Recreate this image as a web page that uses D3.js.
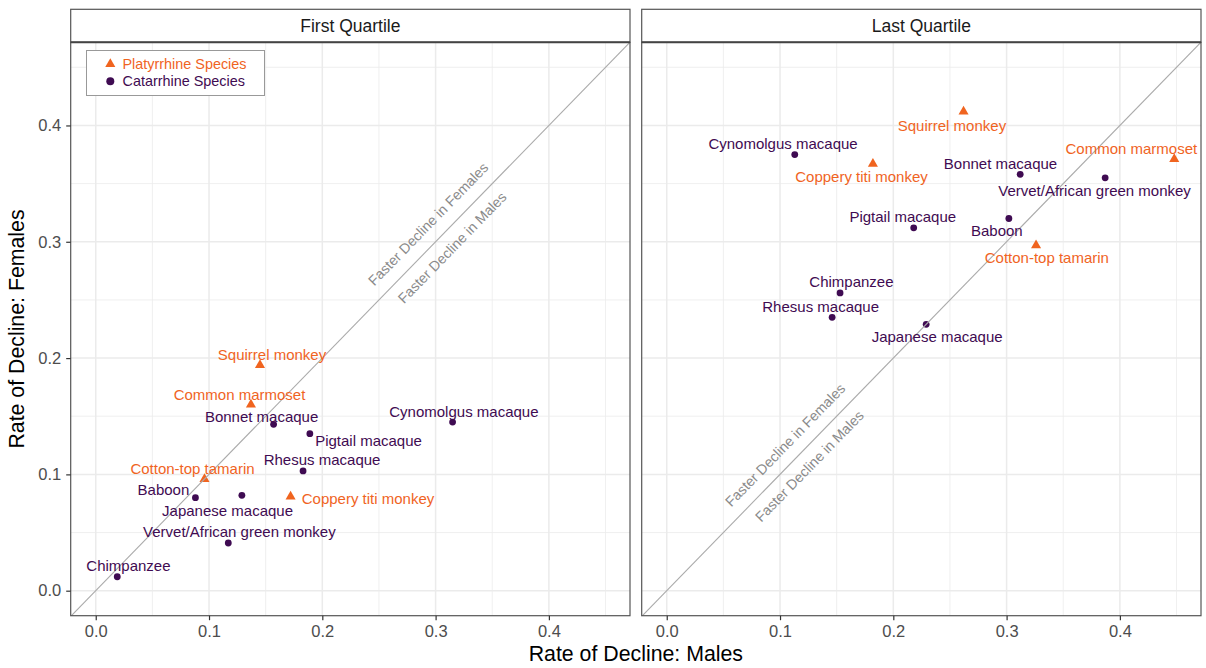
<!DOCTYPE html>
<html>
<head>
<meta charset="utf-8">
<script src="https://cdn.jsdelivr.net/npm/d3@7"></script>
<style>
  html, body { margin: 0; padding: 0; background: #fff; }
  svg { display: block; font-family: "Liberation Sans", Arial, Helvetica, sans-serif; }
</style>
</head>
<body>
<svg id="chart" width="1206" height="668"></svg>
<script>
// ---------------- DATA ----------------
const species = ["Squirrel monkey", "Common marmoset", "Cotton-top tamarin", "Coppery titi monkey",
  "Bonnet macaque", "Pigtail macaque", "Cynomolgus macaque", "Rhesus macaque",
  "Baboon", "Japanese macaque", "Vervet/African green monkey", "Chimpanzee"];
const clade = ["Platyrrhine", "Platyrrhine", "Platyrrhine", "Platyrrhine",
  "Catarrhine", "Catarrhine", "Catarrhine", "Catarrhine",
  "Catarrhine", "Catarrhine", "Catarrhine", "Catarrhine"];
const firstMales   = [0.145, 0.137, 0.096, 0.172, 0.157, 0.189, 0.315, 0.183, 0.088, 0.129, 0.117, 0.019];
const firstFemales = [0.194, 0.160, 0.096, 0.081, 0.143, 0.135, 0.145, 0.103, 0.080, 0.082, 0.041, 0.012];
const lastMales    = [0.262, 0.448, 0.326, 0.182, 0.312, 0.218, 0.113, 0.146, 0.302, 0.229, 0.387, 0.153];
const lastFemales  = [0.412, 0.371, 0.297, 0.367, 0.358, 0.312, 0.375, 0.235, 0.320, 0.229, 0.355, 0.256];
const panelTitles = ["First Quartile", "Last Quartile"];
const tickValues = [0.0, 0.1, 0.2, 0.3, 0.4];
const minorTickValues = [0.05, 0.15, 0.25, 0.35, 0.45];
const legendLabels = ["Platyrrhine Species", "Catarrhine Species"];
const diagLabels = ["Faster Decline in Females", "Faster Decline in Males"];
// annotation anchor points (data units) per panel: [females, males]
const diagFirstX = [0.2933, 0.3145], diagFirstY = [0.3153, 0.2951];
const diagLastX  = [0.1044, 0.1259], diagLastY  = [0.1253, 0.1072];

// ---------------- LAYOUT (label offsets, px, from repel placement) ----------------
const firstLabelOffsets = [[12,-10],[-11.4,-10],[-12,-10.6],[77.4,2.6],[-12,-7.6],[58.7,6.7],
  [11.3,-10.7],[19,-11.3],[-32,-8.4],[-14.3,15.7],[11.1,-11.4],[11.2,-10.7]];
const lastLabelOffsets = [[-11.6,14],[-42.9,-10.7],[10.8,12.6],[-11.4,12.7],[-19.7,-11],[-10.9,-11],
  [-11.7,-10.7],[-11.5,-10.6],[-12,12],[11,12.4],[-10.6,12.7],[11.4,-11]];

const colors = { Platyrrhine: "#F0641F", Catarrhine: "#3F0B52" };
const svg = d3.select("#chart");
const stripTop = 9.3, panelTop = 42.3, panelBottom = 615.7;
const panels = [
  { left: 70.7, right: 630, males: firstMales, females: firstFemales, offsets: firstLabelOffsets, dx: diagFirstX, dy: diagFirstY },
  { left: 641.7, right: 1201, males: lastMales, females: lastFemales, offsets: lastLabelOffsets, dx: diagLastX, dy: diagLastY }
];
const xDomain = [-0.0221, 0.4716], yDomain = [-0.0215, 0.4715];
const y = d3.scaleLinear().domain(yDomain).range([panelBottom, panelTop]);
const tri = d3.symbol().type(d3.symbolTriangle).size(44);

panels.forEach((p, pi) => {
  const x = d3.scaleLinear().domain(xDomain).range([p.left, p.right]);
  const g = svg.append("g");
  const clipId = "clip" + pi;
  svg.append("clipPath").attr("id", clipId).append("rect")
    .attr("x", p.left).attr("y", panelTop).attr("width", p.right - p.left).attr("height", panelBottom - panelTop);

  // grid
  const grid = g.append("g");
  minorTickValues.forEach(v => {
    if (v <= xDomain[1]) grid.append("line").attr("x1", x(v)).attr("x2", x(v)).attr("y1", panelTop).attr("y2", panelBottom)
      .attr("stroke", "#EBEBEB").attr("stroke-width", 0.8);
    if (v <= yDomain[1]) grid.append("line").attr("y1", y(v)).attr("y2", y(v)).attr("x1", p.left).attr("x2", p.right)
      .attr("stroke", "#EBEBEB").attr("stroke-width", 0.8);
  });
  tickValues.forEach(v => {
    grid.append("line").attr("x1", x(v)).attr("x2", x(v)).attr("y1", panelTop).attr("y2", panelBottom)
      .attr("stroke", "#EBEBEB").attr("stroke-width", 1.5);
    grid.append("line").attr("y1", y(v)).attr("y2", y(v)).attr("x1", p.left).attr("x2", p.right)
      .attr("stroke", "#EBEBEB").attr("stroke-width", 1.5);
  });

  // points
  const pts = g.append("g");
  species.forEach((s, i) => {
    const cx = x(p.males[i]), cy = y(p.females[i]);
    if (clade[i] === "Platyrrhine") {
      pts.append("path").attr("d", tri).attr("transform", `translate(${cx},${cy})`).attr("fill", colors.Platyrrhine);
    } else {
      pts.append("circle").attr("cx", cx).attr("cy", cy).attr("r", 3.4).attr("fill", colors.Catarrhine);
    }
  });

  // abline y = x
  const lo = Math.max(xDomain[0], yDomain[0]), hi = Math.min(xDomain[1], yDomain[1]);
  g.append("line").attr("clip-path", `url(#${clipId})`)
    .attr("x1", x(lo - 0.01)).attr("y1", y(lo - 0.01)).attr("x2", x(hi + 0.01)).attr("y2", y(hi + 0.01))
    .attr("stroke", "#ABABAB").attr("stroke-width", 1.1);

  // labels
  const labs = g.append("g").attr("font-size", 15).attr("text-anchor", "middle");
  species.forEach((s, i) => {
    const cx = x(p.males[i]), cy = y(p.females[i]);
    labs.append("text").attr("x", cx + p.offsets[i][0]).attr("y", cy + p.offsets[i][1])
      .attr("dy", "0.36em").attr("fill", colors[clade[i]]).text(s);
  });

  // diagonal annotations
  const angle = -Math.atan((y(0) - y(0.1)) / (x(0.1) - x(0))) * 180 / Math.PI;
  diagLabels.forEach((t, k) => {
    const ax = x(p.dx[k]), ay = y(p.dy[k]);
    g.append("text").attr("transform", `translate(${ax},${ay}) rotate(${angle})`)
      .attr("text-anchor", "middle").attr("dy", "0.36em").attr("font-size", 14.2)
      .attr("fill", "#8A8A8A").text(t);
  });

  // panel border
  g.append("rect").attr("x", p.left).attr("y", panelTop).attr("width", p.right - p.left).attr("height", panelBottom - panelTop)
    .attr("fill", "none").attr("stroke", "#555").attr("stroke-width", 1.2);
  // strip
  g.append("rect").attr("x", p.left).attr("y", stripTop).attr("width", p.right - p.left).attr("height", panelTop - stripTop)
    .attr("fill", "#fff").attr("stroke", "#555").attr("stroke-width", 1.2);
  g.append("line").attr("x1", p.left).attr("x2", p.right).attr("y1", panelTop).attr("y2", panelTop)
    .attr("stroke", "#444").attr("stroke-width", 2);
  g.append("text").attr("x", (p.left + p.right) / 2).attr("y", (stripTop + panelTop) / 2).attr("dy", "0.36em")
    .attr("text-anchor", "middle").attr("font-size", 17.5).attr("fill", "#1A1A1A").text(panelTitles[pi]);

  // x axis
  const xAxis = g.append("g").attr("transform", `translate(0,${panelBottom})`)
    .call(d3.axisBottom(x).tickValues(tickValues).tickFormat(d3.format(".1f")).tickSize(4.5).tickPadding(5));
  xAxis.select(".domain").remove();
  xAxis.selectAll(".tick line").attr("stroke", "#333").attr("stroke-width", 1.2);
  xAxis.selectAll(".tick text").attr("font-size", 16.5).attr("fill", "#4D4D4D").attr("font-family", null);

  if (pi === 0) {
    const yAxis = g.append("g").attr("transform", `translate(${p.left},0)`)
      .call(d3.axisLeft(y).tickValues(tickValues).tickFormat(d3.format(".1f")).tickSize(4.5).tickPadding(5));
    yAxis.select(".domain").remove();
    yAxis.selectAll(".tick line").attr("stroke", "#333").attr("stroke-width", 1.2);
    yAxis.selectAll(".tick text").attr("font-size", 16.5).attr("fill", "#4D4D4D").attr("font-family", null);

    // legend
    const lg = g.append("g");
    lg.append("rect").attr("x", 86.5).attr("y", 50.5).attr("width", 178).attr("height", 45)
      .attr("fill", "#fff").attr("stroke", "#999").attr("stroke-width", 1);
    const ly = [64, 81.3];
    legendLabels.forEach((t, k) => {
      const c = k === 0 ? colors.Platyrrhine : colors.Catarrhine;
      if (k === 0) lg.append("path").attr("d", tri).attr("transform", `translate(110.3,${ly[k]})`).attr("fill", c);
      else lg.append("circle").attr("cx", 110.3).attr("cy", ly[k]).attr("r", 4).attr("fill", c);
      lg.append("text").attr("x", 122.5).attr("y", ly[k]).attr("dy", "0.36em").attr("font-size", 14.4).attr("fill", c).text(t);
    });
  }
});

// axis titles
svg.append("text").attr("x", (70.7 + 1201) / 2).attr("y", 661).attr("text-anchor", "middle")
  .attr("font-size", 21.3).attr("fill", "#000").text("Rate of Decline: Males");
svg.append("text").attr("transform", `translate(24,${(panelTop + panelBottom) / 2}) rotate(-90)`)
  .attr("text-anchor", "middle").attr("font-size", 21.3).attr("fill", "#000").text("Rate of Decline: Females");
</script>
</body>
</html>
